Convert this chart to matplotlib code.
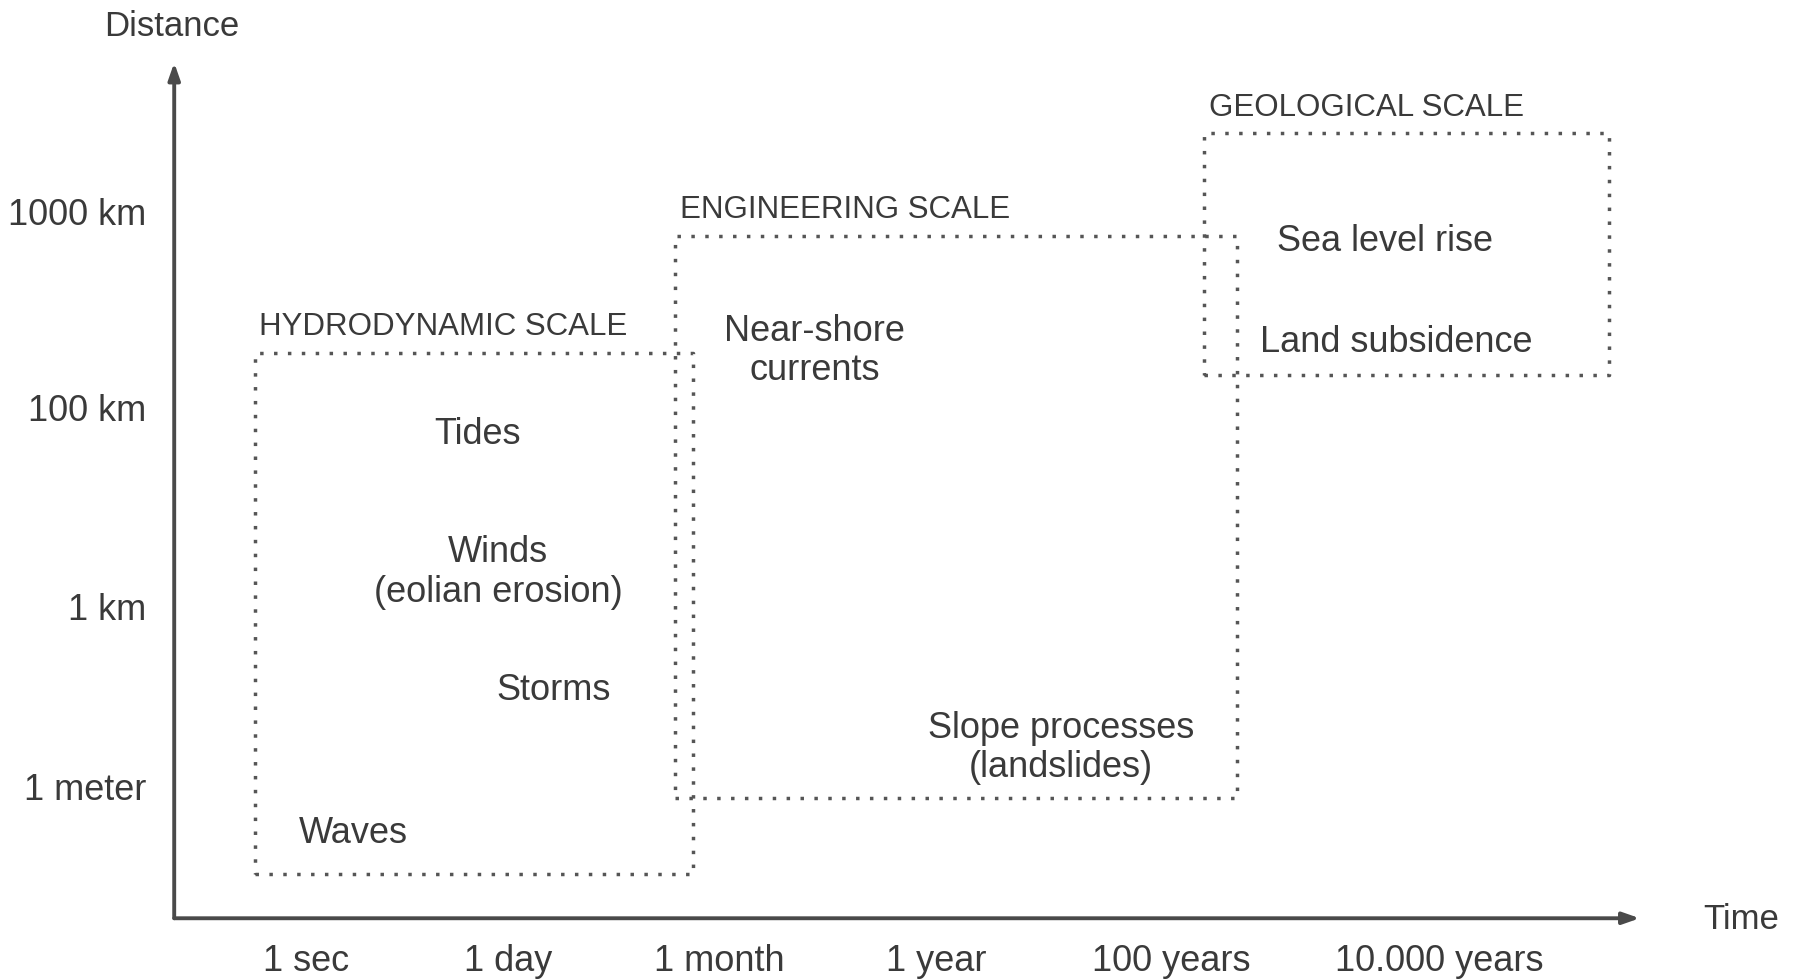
import matplotlib.pyplot as plt

plt.rcParams['font.family'] = ['Liberation Sans', 'DejaVu Sans']

# axis ticks (positions in a 0-100 schematic scale)
time_labels = ['1 sec', '1 day', '1 month', '1 year', '100 years', '10.000 years']
time_pos = [9.0, 22.8, 37.2, 52.0, 68.0, 86.3]
dist_labels = ['1000 km', '100 km', '1 km', '1 meter']
dist_pos = [82.2, 59.2, 36.0, 14.9]

# scale boxes: name, x0, x1, y0, y1
scale_names = ['HYDRODYNAMIC SCALE', 'ENGINEERING SCALE', 'GEOLOGICAL SCALE']
scale_x0 = [5.5, 34.2, 70.3]
scale_x1 = [35.4, 72.5, 97.9]
scale_y0 = [5.2, 14.1, 63.5]
scale_y1 = [66.1, 79.8, 91.8]

# processes inside the boxes
proc_names = ['Tides', 'Winds\n(eolian erosion)', 'Storms', 'Waves',
              'Near-shore\ncurrents', 'Slope processes\n(landslides)',
              'Sea level rise', 'Land subsidence']
proc_x = [20.7, 22.1, 25.9, 12.2, 43.7, 60.5, 82.6, 83.4]
proc_y = [56.6, 40.4, 26.6, 9.9, 66.3, 19.9, 79.1, 67.3]

txt = '#3a3a3a'
line = '#4a4a4a'

fig = plt.figure(figsize=(17.96, 9.8), dpi=100)
ax = fig.add_axes([0.097, 0.063, 0.816, 0.873])
ax.set_xlim(0, 100)
ax.set_ylim(0, 100)
ax.axis('off')

# axes with arrows
arrow = dict(arrowstyle='-|>,head_length=1.0,head_width=0.35',
             color=line, lw=2.8, shrinkA=0, shrinkB=0)
ax.annotate('', xy=(100, 0), xytext=(0, 0), annotation_clip=False, arrowprops=arrow)
ax.annotate('', xy=(0, 100), xytext=(0, 0), annotation_clip=False, arrowprops=arrow)
ax.text(-0.2, 104.2, 'Distance', ha='center', va='center', fontsize=25, color=txt, clip_on=False)
ax.text(106.9, -0.2, 'Time', ha='center', va='center', fontsize=25, color=txt, clip_on=False)

for lab, p in zip(time_labels, time_pos):
    ax.text(p, -5.1, lab, ha='center', va='center', fontsize=26, color=txt, clip_on=False)
for lab, p in zip(dist_labels, dist_pos):
    ax.text(-1.9, p, lab, ha='right', va='center', fontsize=26, color=txt, clip_on=False)

for name, x0, x1, y0, y1 in zip(scale_names, scale_x0, scale_x1, scale_y0, scale_y1):
    ax.plot([x0, x1, x1, x0, x0], [y0, y0, y1, y1, y0], linestyle=(0, (1, 3)),
            color='#555555', lw=2.5)
    ax.text(x0 + 0.3, y1 + 1.2, name, ha='left', va='bottom', fontsize=22.5, color=txt)

for name, x, y in zip(proc_names, proc_x, proc_y):
    ax.text(x, y, name, ha='center', va='center', fontsize=26, color=txt, linespacing=1.17)

fig.savefig('out.png', dpi=100, facecolor='white')
